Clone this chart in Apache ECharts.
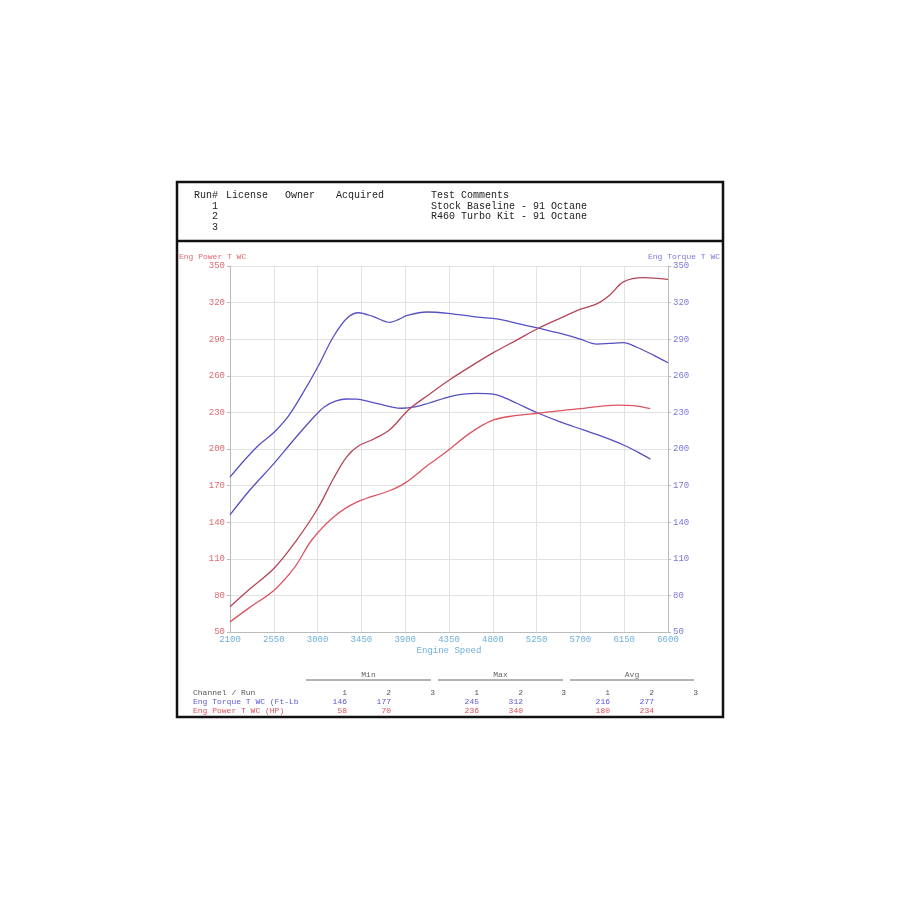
<!DOCTYPE html>
<html>
<head>
<meta charset="utf-8">
<script src="https://cdn.jsdelivr.net/npm/echarts@6/dist/echarts.min.js"></script>
<style>html,body{margin:0;padding:0;background:#fff;}#c{width:900px;height:900px;}</style>
</head>
<body>
<div id="c"></div>
<script>
// ---- data ----
var rpmTicks = [2100, 2550, 3000, 3450, 3900, 4350, 4800, 5250, 5700, 6150, 6600];
var valueTicks = [50, 80, 110, 140, 170, 200, 230, 260, 290, 320, 350];

// Run 1 torque (Stock Baseline)
var torque1Rpm = [2100, 2300, 2550, 2750, 2934, 3071, 3190, 3299, 3400, 3500, 3650, 3744, 3864, 4000, 4138, 4361, 4500, 4635, 4806, 4950, 5046, 5269, 5500, 5731, 5950, 6142, 6300, 6420];
var torque1Val = [146, 166, 188, 207, 223.8, 234.7, 239.5, 241, 240.8, 239.5, 236.5, 234.7, 233.4, 234.5, 237.5, 243, 245, 245.6, 245, 241, 237.5, 229.3, 222, 215.6, 209.5, 203.3, 197, 191.6];

// Run 2 torque (R460 Turbo Kit)
var torque2Rpm = [2100, 2250, 2400, 2550, 2700, 2850, 3000, 3162, 3299, 3419, 3573, 3744, 3840, 3920, 4122, 4361, 4600, 4800, 4909, 5050, 5269, 5400, 5560, 5700, 5868, 6000, 6142, 6279, 6450, 6600];
var torque2Val = [177, 191, 203.5, 213.5, 227, 246, 267, 292, 307, 311.7, 308.5, 303.8, 306.5, 309.5, 312.3, 311, 308.5, 307, 305.7, 303, 299, 296.5, 293.4, 290, 286, 286.5, 287.2, 283.4, 277, 270.7];

// Run 1 power (Stock Baseline)
var power1Rpm = [2100, 2300, 2550, 2766, 2940, 3162, 3402, 3744, 3900, 4132, 4320, 4566, 4806, 5050, 5269, 5500, 5731, 6074, 6250, 6417];
var power1Val = [58.3, 70, 84.1, 103.2, 125.4, 144.1, 156.4, 166, 172.2, 186.6, 197.5, 213, 223.8, 227.5, 229.3, 231.5, 233.3, 236, 235.5, 233];

// Run 2 power (R460 Turbo Kit)
var power2Rpm = [2100, 2300, 2550, 2785, 3000, 3162, 3299, 3419, 3573, 3744, 3933, 4138, 4361, 4618, 4806, 5050, 5269, 5500, 5697, 5868, 6000, 6142, 6348, 6600];
var power2Val = [70.7, 85, 102, 125.4, 151, 175.6, 193.6, 202.5, 208, 216, 232, 244.3, 257, 270, 279, 289.5, 299, 307.5, 314.5, 318.9, 326, 337, 340.4, 339];

// header & stats table text
var headerCols = ["Run#", "License", "Owner", "Acquired", "Test Comments"];
var runNumbers = ["1", "2", "3"];
var runComments = ["Stock Baseline - 91 Octane", "R460 Turbo Kit - 91 Octane", ""];
var statGroups = ["Min", "Max", "Avg"];
var torqueStats = ["146", "177", "", "245", "312", "", "216", "277", ""];
var powerStats = ["58", "70", "", "236", "340", "", "180", "234", ""];

// ---- build ----
var X0 = rpmTicks[0], Y0 = valueTicks[0];
function pairs(xs, ys) { return xs.map(function (x, i) { return [x - X0, ys[i] - Y0]; }); }

var MONO = '"Liberation Mono","DejaVu Sans Mono",monospace';
var cRedLbl = '#e06a72', cBlueLbl = '#7a78dc', cXLbl = '#6fb0dc';
var cBlue = '#5650c4', cRed2 = '#b54658', cRed1 = '#dc5460';

var chart = echarts.init(document.getElementById('c'), null, { renderer: 'canvas' });

var graphics = [];
// frame
graphics.push({ type: 'rect', shape: { x: 177, y: 182, width: 546, height: 535 }, style: { fill: 'none', stroke: '#111', lineWidth: 2.5 }, silent: true });
graphics.push({ type: 'line', shape: { x1: 177, y1: 241, x2: 723, y2: 241 }, style: { stroke: '#111', lineWidth: 2.5 }, silent: true });
// header
var headerX = [194, 226, 285, 336, 431];
headerCols.forEach(function (t, i) {
  graphics.push({ type: 'text', x: headerX[i], y: 195, style: { text: t, font: '10px ' + MONO, fill: '#222', verticalAlign: 'middle' } });
});
var rowY = [206, 216.5, 227];
runNumbers.forEach(function (t, i) {
  graphics.push({ type: 'text', x: 215, y: rowY[i], style: { text: t, font: '10px ' + MONO, fill: '#222', align: 'center', verticalAlign: 'middle' } });
  if (runComments[i]) graphics.push({ type: 'text', x: 431, y: rowY[i], style: { text: runComments[i], font: '10px ' + MONO, fill: '#222', verticalAlign: 'middle' } });
});
// axis titles
graphics.push({ type: 'text', x: 179, y: 257, style: { text: 'Eng Power T WC', font: '8px ' + MONO, fill: cRedLbl, verticalAlign: 'middle' } });
graphics.push({ type: 'text', x: 720, y: 257, style: { text: 'Eng Torque T WC', font: '8px ' + MONO, fill: cBlueLbl, align: 'right', verticalAlign: 'middle' } });
// stats table
var groupLines = [[306, 431], [438, 563], [570, 694]];
statGroups.forEach(function (g, i) {
  var a = groupLines[i];
  graphics.push({ type: 'line', shape: { x1: a[0], y1: 680, x2: a[1], y2: 680 }, style: { stroke: '#666', lineWidth: 1 }, silent: true });
  graphics.push({ type: 'text', x: (a[0] + a[1]) / 2, y: 675, style: { text: g, font: '8px ' + MONO, fill: '#666', align: 'center', verticalAlign: 'middle' } });
});
var colRight = [347, 391, 435, 479, 523, 566, 610, 654, 698];
graphics.push({ type: 'text', x: 193, y: 693, style: { text: 'Channel / Run', font: '8px ' + MONO, fill: '#555', verticalAlign: 'middle' } });
graphics.push({ type: 'text', x: 193, y: 702, style: { text: 'Eng Torque T WC (Ft-Lb', font: '8px ' + MONO, fill: '#5a58d8', verticalAlign: 'middle' } });
graphics.push({ type: 'text', x: 193, y: 711, style: { text: 'Eng Power T WC (HP)', font: '8px ' + MONO, fill: '#e0505a', verticalAlign: 'middle' } });
colRight.forEach(function (x, i) {
  graphics.push({ type: 'text', x: x, y: 693, style: { text: runNumbers[i % 3], font: '8px ' + MONO, fill: '#555', align: 'right', verticalAlign: 'middle' } });
  if (torqueStats[i]) graphics.push({ type: 'text', x: x, y: 702, style: { text: torqueStats[i], font: '8px ' + MONO, fill: '#5a58d8', align: 'right', verticalAlign: 'middle' } });
  if (powerStats[i]) graphics.push({ type: 'text', x: x, y: 711, style: { text: powerStats[i], font: '8px ' + MONO, fill: '#e0505a', align: 'right', verticalAlign: 'middle' } });
});

var xSpan = rpmTicks[rpmTicks.length - 1] - X0, xStep = rpmTicks[1] - rpmTicks[0];
var ySpan = valueTicks[valueTicks.length - 1] - Y0, yStep = valueTicks[1] - valueTicks[0];

function yAx(pos, color) {
  return {
    type: 'value', position: pos, min: 0, max: ySpan, interval: yStep,
    axisLine: { show: true, lineStyle: { color: '#bbb', width: 1 } },
    axisTick: { show: true, length: 3, lineStyle: { color: '#bbb' } },
    splitLine: { show: pos === 'left', lineStyle: { color: '#e2e2e2', width: 1 } },
    axisLabel: { color: color, fontFamily: MONO, fontSize: 9, margin: 5, formatter: function (v) { return String(v + Y0); } }
  };
}

function line(name, xs, ys, color, axisIdx) {
  return {
    name: name, type: 'line', yAxisIndex: axisIdx, data: pairs(xs, ys), smooth: 0.35,
    showSymbol: false, symbol: 'none', lineStyle: { color: color, width: 1.3 }, itemStyle: { color: color }, z: 3
  };
}

chart.setOption({
  animation: false,
  backgroundColor: '#fff',
  grid: { left: 230, right: 232, top: 266, bottom: 268, containLabel: false },
  xAxis: {
    type: 'value', min: 0, max: xSpan, interval: xStep,
    name: 'Engine Speed', nameLocation: 'middle', nameGap: 14,
    nameTextStyle: { color: cXLbl, fontFamily: MONO, fontSize: 9 },
    axisLine: { show: true, lineStyle: { color: '#bbb' } },
    axisTick: { show: false },
    splitLine: { show: true, lineStyle: { color: '#e2e2e2', width: 1 } },
    axisLabel: { color: cXLbl, fontFamily: MONO, fontSize: 9, margin: 3, formatter: function (v) { return String(v + X0); } }
  },
  yAxis: [yAx('left', cRedLbl), yAx('right', cBlueLbl)],
  series: [
    line('Torque Run 1', torque1Rpm, torque1Val, cBlue, 1),
    line('Torque Run 2', torque2Rpm, torque2Val, cBlue, 1),
    line('Power Run 1', power1Rpm, power1Val, cRed1, 0),
    line('Power Run 2', power2Rpm, power2Val, cRed2, 0)
  ],
  graphic: graphics
});
</script>
</body>
</html>
